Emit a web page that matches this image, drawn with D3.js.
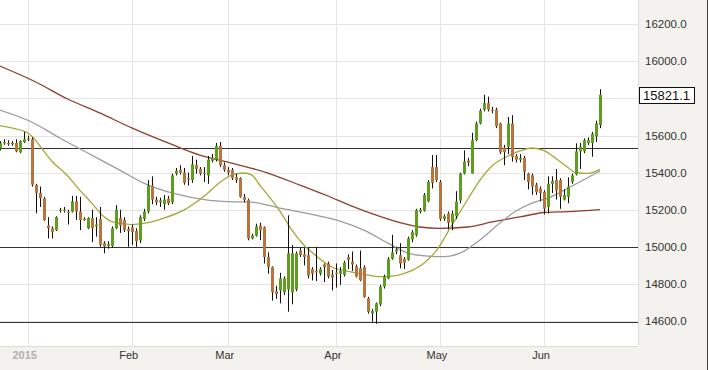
<!DOCTYPE html>
<html><head><meta charset="utf-8">
<script src="https://cdn.jsdelivr.net/npm/d3@7/dist/d3.min.js"></script>
<style>html,body{margin:0;padding:0;background:#fff;}svg{display:block;}</style>
</head><body>
<svg id="chart" width="708" height="370"></svg>
<script>
// ---- data ----
const opens = [15530,15560,15560,15555,15560,15510,15565,15580,15580,15333,15290,15262,15115,15100,15090,15195,15200,15190,15190,15245,15190,15150,15100,15155,15110,15150,15020,15005,15005,15100,15155,15145,15095,15105,15085,15035,15150,15190,15330,15255,15240,15230,15260,15240,15395,15415,15400,15370,15360,15440,15420,15395,15385,15465,15470,15545,15440,15415,15415,15375,15370,15270,15252,15045,15060,15115,15105,14945,14890,14760,14765,14755,14770,14755,14770,14980,14960,14955,14880,14870,14855,14905,14910,14850,14860,14855,14850,14945,14920,14895,14885,14890,14722,14640,14650,14690,14785,14830,14935,14975,14955,14935,14930,15040,15063,15190,15195,15245,15430,15430,15350,15150,15180,15130,15165,15250,15395,15465,15395,15575,15665,15740,15775,15740,15740,15665,15535,15540,15665,15490,15470,15480,15395,15385,15335,15315,15295,15215,15340,15360,15360,15255,15270,15350,15390,15515,15515,15560,15560,15595,15657];
const highs = [15570,15580,15575,15570,15580,15575,15620,15600,15590,15340,15325,15270,15160,15110,15165,15210,15215,15200,15275,15275,15270,15160,15160,15200,15160,15215,15030,15030,15110,15225,15200,15160,15110,15120,15100,15170,15205,15360,15380,15270,15265,15280,15275,15395,15425,15440,15425,15400,15490,15470,15430,15430,15490,15500,15560,15565,15455,15430,15425,15395,15375,15285,15260,15070,15125,15130,15110,14970,14895,14790,14860,14840,15170,15010,14975,14995,14995,14995,14890,15000,14890,14910,14920,14875,14910,14890,14925,14960,14975,14905,14980,14900,14730,14665,14700,14795,14850,14945,15065,15000,15020,14945,15055,15090,15205,15210,15290,15360,15495,15495,15360,15175,15190,15195,15300,15400,15520,15480,15615,15675,15745,15820,15810,15755,15750,15670,15550,15700,15710,15500,15500,15490,15400,15395,15345,15325,15305,15380,15380,15420,15370,15310,15375,15395,15558,15560,15585,15590,15620,15680,15850];
const lows = [15520,15550,15545,15545,15510,15505,15560,15570,15325,15180,15215,15140,15045,15045,15085,15185,15185,15120,15185,15145,15090,15140,15095,15025,15055,15000,14965,14990,14995,15095,15075,15080,15000,15010,15000,15020,15140,15180,15230,15225,15215,15200,15225,15230,15385,15390,15335,15330,15345,15395,15385,15350,15340,15455,15460,15430,15405,15385,15360,15345,15265,15240,15035,15040,15055,15036,14910,14855,14710,14720,14695,14740,14650,14690,14760,14945,14900,14830,14819,14815,14845,14810,14830,14765,14780,14795,14840,14880,14870,14835,14815,14725,14640,14596,14585,14680,14775,14825,14930,14960,14884,14880,14925,15025,15055,15180,15190,15240,15315,15350,15140,15140,15095,15090,15150,15235,15390,15435,15395,15570,15660,15730,15730,15720,15640,15500,15440,15500,15460,15455,15455,15360,15310,15280,15280,15245,15175,15180,15290,15255,15205,15250,15235,15340,15385,15420,15505,15550,15486,15565,15640];
const closes = [15560,15565,15555,15560,15515,15570,15580,15585,15335,15290,15262,15145,15100,15080,15160,15200,15195,15185,15245,15190,15145,15148,15155,15100,15120,15010,15002,15015,15100,15200,15115,15090,15085,15080,15030,15160,15190,15330,15255,15240,15250,15255,15235,15385,15410,15400,15345,15365,15445,15420,15395,15400,15470,15480,15545,15440,15415,15400,15370,15360,15270,15252,15045,15062,15110,15090,14945,14890,14755,14745,14830,14830,14965,14965,14965,14955,14945,14845,14855,14865,14880,14890,14840,14835,14855,14870,14915,14930,14905,14840,14820,14730,14650,14655,14695,14785,14840,14935,14970,14985,14910,14915,15045,15080,15198,15200,15280,15350,15345,15360,15150,15165,15130,15180,15245,15395,15460,15455,15575,15665,15735,15775,15740,15735,15650,15510,15510,15665,15485,15470,15480,15405,15350,15325,15295,15290,15205,15340,15355,15305,15270,15280,15325,15385,15515,15540,15575,15575,15610,15665,15821.1];

// moving averages: [candle index, value]
const maFast = [[0,15654],[3,15641],[7,15614],[8,15598],[11,15517],[13,15463],[17,15382],[20,15306],[23,15236],[26,15163],[28,15136],[33,15120],[36,15126],[41,15155],[46,15198],[51,15271],[55,15347],[58,15387],[61,15398],[63,15387],[65,15333],[67,15279],[70,15193],[73,15090],[76,15010],[79,14953],[83,14891],[88,14864],[91,14853],[95,14839],[99,14845],[102,14864],[106,14912],[109,14977],[113,15117],[117,15258],[120,15360],[123,15436],[127,15490],[130,15517],[133,15533],[136,15519],[139,15476],[142,15428],[144,15398],[147,15396],[150,15418]];
const maMid = [[0,15738],[8,15673],[15,15587],[22,15506],[30,15414],[36,15344],[44,15285],[52,15252],[57,15244],[63,15241],[70,15209],[80,15166],[85,15139],[91,15090],[97,15020],[102,14966],[107,14950],[111,14947],[115,14966],[120,15037],[125,15128],[129,15193],[133,15236],[137,15263],[143,15328],[150,15409]];
const maSlow = [[0,15975],[9,15889],[17,15797],[25,15722],[33,15641],[43,15552],[50,15495],[57,15457],[67,15398],[75,15333],[82,15274],[88,15220],[93,15179],[100,15131],[105,15107],[110,15099],[117,15107],[123,15134],[130,15161],[136,15185],[142,15190],[150,15201]];

const levels = [15535, 15000, 14595];
const yTicks = [14600,14800,15000,15200,15400,15600,15800,16000,16200];
const yLabelTicks = [14600,14800,15000,15200,15400,15600,16000,16200];
const monthIdx = [7,33,57,84,110,136];
const monthLabels = ["2015","Feb","Mar","Apr","May","Jun"];
const lastPrice = 15821.1;

// ---- layout ----
const W = 708, H = 370, plotR = 638, plotB = 346;
const svg = d3.select("#chart");
const x = d3.scaleLinear().domain([7,136]).range([27.7,544]);
const y = d3.scaleLinear().domain([14600,16200]).range([321,24.3]);
const fmt = d3.format(".1f");

svg.append("rect").attr("x",0).attr("y",0).attr("width",W).attr("height",H).attr("fill","#f3f2ef");
svg.append("rect").attr("x",0).attr("y",0).attr("width",plotR).attr("height",plotB).attr("fill","#fff");

const g = svg.append("g");
// grid
g.selectAll(".hg").data(yTicks).join("line")
  .attr("x1",0).attr("x2",plotR)
  .attr("y1",d=>Math.round(y(d))+0.5).attr("y2",d=>Math.round(y(d))+0.5)
  .attr("stroke","#e4e4e4").attr("stroke-width",1);
g.selectAll(".vg").data(monthIdx).join("line")
  .attr("x1",d=>Math.round(x(d))+0.5).attr("x2",d=>Math.round(x(d))+0.5)
  .attr("y1",0).attr("y2",plotB)
  .attr("stroke","#e4e4e4").attr("stroke-width",1);

// level lines
g.selectAll(".lv").data(levels).join("line")
  .attr("x1",0).attr("x2",plotR)
  .attr("y1",d=>Math.round(y(d))+0.5).attr("y2",d=>Math.round(y(d))+0.5)
  .attr("stroke","#333").attr("stroke-width",1);

// moving averages
const line = d3.line().x(d=>x(d[0])).y(d=>y(d[1])).curve(d3.curveMonotoneX);
g.append("path").attr("d",line(maSlow)).attr("fill","none").attr("stroke","#8f3f2b").attr("stroke-width",1.3);
g.append("path").attr("d",line(maMid)).attr("fill","none").attr("stroke","#9c9c9c").attr("stroke-width",1.3);
g.append("path").attr("d",line(maFast)).attr("fill","none").attr("stroke","#a4a83a").attr("stroke-width",1.3);

// candles
const idx = d3.range(closes.length);
const cg = g.append("g");
cg.selectAll(".wk").data(idx).join("line")
  .attr("x1",i=>Math.round(x(i))+0.5).attr("x2",i=>Math.round(x(i))+0.5)
  .attr("y1",i=>y(highs[i])).attr("y2",i=>y(lows[i]))
  .attr("stroke","#111").attr("stroke-width",1);
cg.selectAll(".bd").data(idx).join("rect")
  .attr("x",i=>Math.round(x(i))-1)
  .attr("width",3)
  .attr("y",i=>y(Math.max(opens[i],closes[i])))
  .attr("height",i=>Math.max(1.2, Math.abs(y(opens[i])-y(closes[i]))))
  .attr("fill",i=>closes[i]>=opens[i] ? "#5e9e1e" : "#b8743c");

// right axis
svg.append("line").attr("x1",plotR+0.5).attr("x2",plotR+0.5).attr("y1",0).attr("y2",plotB).attr("stroke","#dcdcdc");
svg.append("line").attr("x1",0).attr("x2",plotR).attr("y1",plotB+0.5).attr("y2",plotB+0.5).attr("stroke","#dcdcdc");
svg.selectAll(".yl").data(yLabelTicks).join("text")
  .attr("x",645).attr("y",d=>y(d)).attr("dy","0.35em")
  .attr("font-family","Liberation Sans, Arial, sans-serif").attr("font-size",11.5)
  .attr("fill","#333").text(d=>fmt(d));
// last price box
const ly = y(lastPrice);
svg.append("rect").attr("x",639.5).attr("y",Math.round(ly)-7.5).attr("width",55).attr("height",16)
  .attr("fill","#fff").attr("stroke","#111");
svg.append("text").attr("x",643).attr("y",ly+1).attr("dy","0.35em")
  .attr("font-family","Liberation Sans, Arial, sans-serif").attr("font-size",13)
  .attr("fill","#111").text(fmt(lastPrice));

// bottom axis
svg.selectAll(".ml").data(monthIdx).join("text")
  .attr("x",d=>x(d)-3).attr("y",359).attr("text-anchor","middle")
  .attr("font-family","Liberation Sans, Arial, sans-serif").attr("font-size",11)
  .attr("font-weight",(d,i)=>i===0?"bold":"normal")
  .attr("fill",(d,i)=>i===0?"#b0b0b0":"#333")
  .text((d,i)=>monthLabels[i]);

svg.append("line").attr("x1",707.5).attr("x2",707.5).attr("y1",0).attr("y2",H).attr("stroke","#444");
</script>
</body></html>
